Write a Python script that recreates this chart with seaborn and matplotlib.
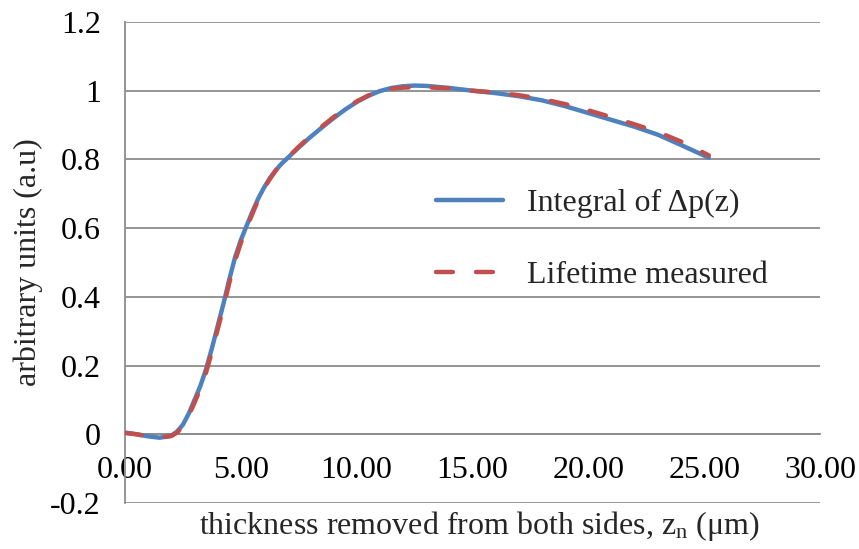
import numpy as np
import pandas as pd
import matplotlib
matplotlib.use('Agg')
import matplotlib.pyplot as plt
import seaborn as sns
from matplotlib.lines import Line2D

# thickness removed (um) and normalised signal
z_um = [0, 0.5, 1.0, 1.5, 2.0, 2.25, 2.5, 2.75, 3.0, 3.25, 3.5, 3.75, 4.0, 4.25, 4.5, 4.75,
        5.0, 5.25, 5.5, 5.75, 6.0, 6.25, 6.5, 6.75, 7.0, 7.5, 8.0, 8.5, 9.0, 9.5, 10.0,
        10.5, 11.0, 11.5, 12.0, 12.5, 13.0, 14.0, 15.0, 16.0, 17.0, 18.0, 19.0, 20.0,
        21.0, 22.0, 23.0, 24.0, 25.2]
integral_y = [0.005, 0.0, -0.006, -0.01, -0.004, 0.008, 0.028, 0.06, 0.1, 0.14, 0.19, 0.25,
              0.315, 0.38, 0.45, 0.515, 0.565, 0.607, 0.648, 0.686, 0.718, 0.745, 0.768,
              0.787, 0.803, 0.835, 0.865, 0.893, 0.92, 0.945, 0.967, 0.985, 0.999, 1.008,
              1.013, 1.015, 1.014, 1.008, 1.0, 0.993, 0.984, 0.972, 0.955, 0.935, 0.915,
              0.895, 0.872, 0.842, 0.805]
lifetime_y = [0.004, 0.0, -0.006, -0.01, -0.005, 0.005, 0.024, 0.054, 0.092, 0.132, 0.18,
              0.24, 0.305, 0.37, 0.44, 0.505, 0.557, 0.6, 0.642, 0.682, 0.715, 0.743, 0.767,
              0.787, 0.804, 0.837, 0.868, 0.896, 0.923, 0.948, 0.969, 0.986, 0.999, 1.006,
              1.009, 1.01, 1.01, 1.007, 1.0, 0.995, 0.987, 0.976, 0.961, 0.943, 0.923,
              0.902, 0.88, 0.852, 0.812]

x_ticks = [0, 5, 10, 15, 20, 25, 30]
y_ticks = [-0.2, 0, 0.2, 0.4, 0.6, 0.8, 1.0, 1.2]
y_ticklabels = ['-0.2', '0', '0.2', '0.4', '0.6', '0.8', '1', '1.2']

sns.set_style('white')
plt.rcParams['font.family'] = ['Liberation Serif', 'DejaVu Serif']
plt.rcParams['mathtext.default'] = 'regular'

blue = '#4F81BD'
red = '#C0504D'
grey = '#8C8C8C'
fs = 23

fig = plt.figure(figsize=(8.59, 5.49), dpi=100)
ax = fig.add_axes([125 / 859, 1 - 503 / 549, 695 / 859, 481 / 549])

df = pd.DataFrame({'z': z_um, 'integral': integral_y, 'lifetime': lifetime_y})

sns.lineplot(data=df, x='z', y='integral', ax=ax, color=blue, lw=3.2,
             solid_capstyle='round', zorder=3)
sns.lineplot(data=df, x='z', y='lifetime', ax=ax, color=red, lw=3.2, zorder=4)
life_line = ax.get_lines()[-1]
life_line.set_dashes((3.8, 5.2))
life_line.set_dash_capstyle('round')

ax.set_xlim(0, 30)
ax.set_ylim(-0.2, 1.2)
ax.set_xticks(x_ticks)
ax.set_xticklabels([f'{v:.2f}' for v in x_ticks])
ax.set_yticks(y_ticks)
ax.set_yticklabels(y_ticklabels)

# excel-ish axes: x axis sits at y=0, grey lines
for s in ['top', 'right']:
    ax.spines[s].set_visible(False)
ax.spines['bottom'].set_position(('data', 0))
for s in ['bottom', 'left']:
    ax.spines[s].set_color(grey)
    ax.spines[s].set_linewidth(1.3)
ax.grid(axis='y', color=grey, lw=1.3)
ax.grid(axis='x', visible=False)
ax.set_axisbelow(True)

ax.tick_params(axis='both', direction='out', length=7.3, width=1.3, color=grey,
               labelsize=fs, labelcolor='black')
ax.tick_params(axis='y', pad=10)
ax.tick_params(axis='x', pad=8)

ax.set_xlabel('thickness removed from both sides, z$_{n}$ (\u03bcm)', fontsize=fs)
ax.set_ylabel('arbitrary units (a.u)', fontsize=fs)
ax.xaxis.set_label_coords(0.51, -0.012)
ax.yaxis.set_label_coords(-0.118, 0.5)

handles = [Line2D([], [], color=blue, lw=3.2, solid_capstyle='round'),
           Line2D([], [], color=red, lw=3.2, dashes=(3.8, 5.2), dash_capstyle='round')]
leg = ax.legend(handles, ['Integral of \u0394p(z)', 'Lifetime measured'],
                loc='upper left', bbox_to_anchor=(0.448, 0.654), frameon=False,
                fontsize=fs, handlelength=2.1, handletextpad=0.75, labelspacing=1.34,
                borderpad=0, borderaxespad=0)
leg.set_zorder(10)
leg.get_texts()[1].set_bbox(dict(facecolor='white', edgecolor='none', pad=4))

fig.savefig('out.png', dpi=100)
